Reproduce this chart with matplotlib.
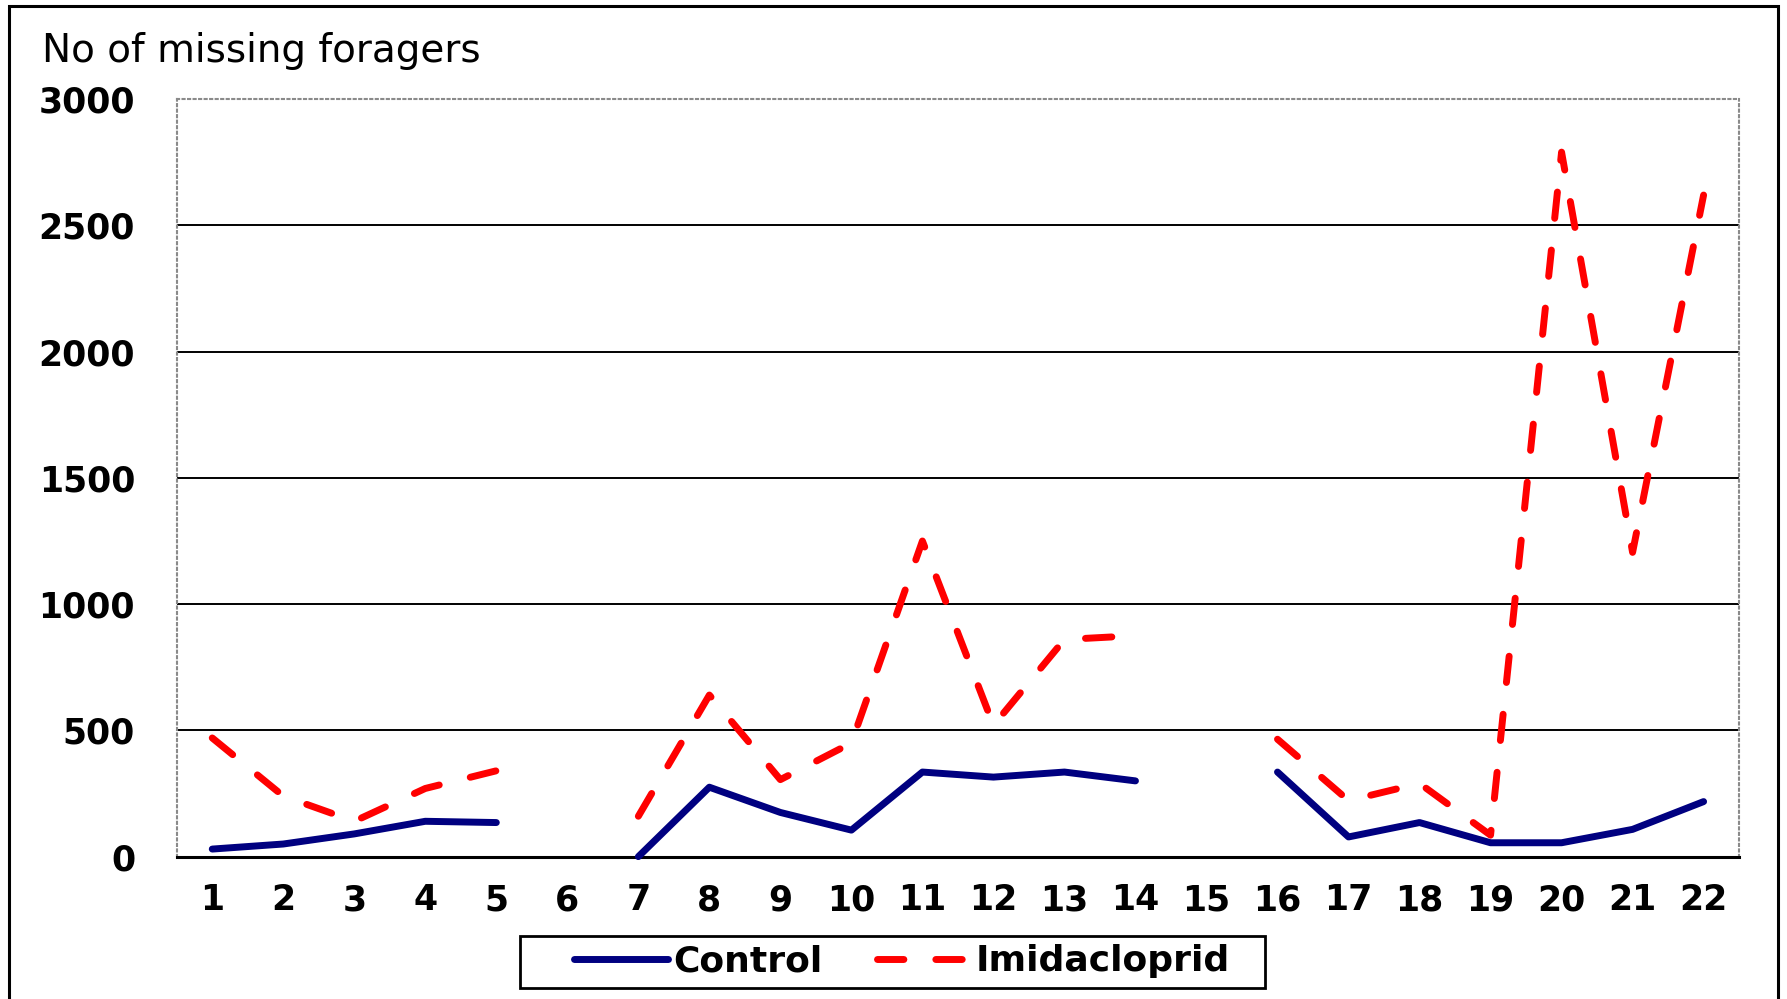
import numpy as np
import matplotlib.pyplot as plt
from matplotlib.patches import Rectangle

plt.rcParams['font.family'] = 'DejaVu Sans'

days = list(range(1, 23))
control = [30, 50, 90, 140, 135, np.nan, 0, 275, 175, 105, 335, 315, 335, 300,
           np.nan, 335, 78, 135, 55, 55, 108, 218]
imidacloprid = [470, 240, 140, 270, 340, np.nan, 160, 640, 305, 450, 1250, 520, 860, 875,
                np.nan, 465, 222, 290, 85, 2790, 1205, 2620]
yticks = [0, 500, 1000, 1500, 2000, 2500, 3000]

fig = plt.figure(figsize=(17.87, 9.99), dpi=100)
ax = fig.add_axes([0.0989, 0.1425, 0.8743, 0.7583])

ax.plot(days, control, color='#000080', linewidth=5, solid_capstyle='round',
        solid_joinstyle='round', label='Control', clip_on=False, zorder=3)
ax.plot(days, imidacloprid, color='#ff0000', linewidth=5, dashes=(3.8, 4.6),
        dash_capstyle='round', label='Imidacloprid', clip_on=False, zorder=3)

ax.set_xlim(0.5, 22.5)
ax.set_ylim(0, 3000)
ax.set_xticks(days)
ax.set_yticks(yticks)
ax.tick_params(axis='both', length=0, labelsize=25)
ax.tick_params(axis='y', pad=30)
ax.tick_params(axis='x', pad=19)
for lab in ax.get_xticklabels() + ax.get_yticklabels():
    lab.set_fontweight('bold')

for v in yticks[1:-1]:
    ax.axhline(v, color='black', linewidth=1.4, zorder=1)

for side in ['top', 'right', 'left']:
    ax.spines[side].set_color('#8a8a8a')
    ax.spines[side].set_linestyle(':')
    ax.spines[side].set_linewidth(1.5)
ax.spines['bottom'].set_color('black')
ax.spines['bottom'].set_linewidth(2.2)

fig.text(0.0236, 0.949, 'No of missing foragers', fontsize=28, ha='left', va='center')

leg = fig.legend(loc='center', bbox_to_anchor=(0.5048, 0.0376), ncol=2,
                 prop={'size': 26, 'weight': 'bold'}, frameon=False,
                 handlelength=2.6, handletextpad=0.15,
                 columnspacing=1.5, borderpad=0.25, borderaxespad=0)

# legend frame
fig.patches.append(Rectangle((0.2908, 0.0114), 0.4171, 0.0513, transform=fig.transFigure,
                             fill=False, edgecolor='black', linewidth=2))
# outer figure border
fig.patches.append(Rectangle((0.005, -0.05), 0.99, 1.044, transform=fig.transFigure,
                             fill=False, edgecolor='black', linewidth=2.2))

plt.savefig('out.png', dpi=100)
